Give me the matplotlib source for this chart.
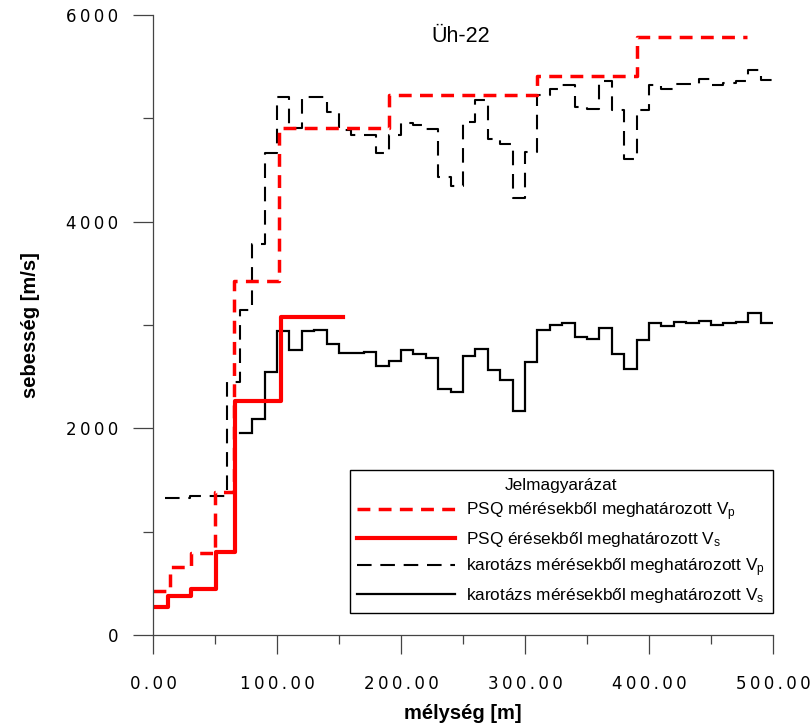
import matplotlib
matplotlib.use("Agg")
import matplotlib.pyplot as plt
from matplotlib.ticker import FixedLocator

plt.rcParams["font.family"] = ["Liberation Sans", "DejaVu Sans"]
plt.rcParams["mathtext.fontset"] = "custom"
plt.rcParams["mathtext.rm"] = "Liberation Sans"
plt.rcParams["mathtext.it"] = "Liberation Sans:italic"

# ---------------- data ----------------
# PSQ Vp (step edges in m, velocities in m/s)
psq_vp_depth = [0, 14, 31, 50, 65, 102, 190, 310, 390, 479]
psq_vp_vel = [426, 661, 793, 1387, 3426, 4910, 5226, 5409, 5784]

# PSQ Vs
psq_vs_depth = [0, 12, 31, 51, 66, 103, 153]
psq_vs_vel = [271, 377, 445, 803, 2264, 3080]

# karotázs Vp (10 m intervals)
kar_vp_depth = [10, 20, 30, 40, 50, 60, 70, 80, 90, 100, 110, 120, 130, 140, 150,
                160, 170, 180, 190, 200, 210, 220, 230, 240, 250, 260, 270, 280,
                290, 300, 310, 320, 330, 340, 350, 360, 370, 380, 390, 400, 410,
                420, 430, 440, 450, 460, 470, 480, 490, 500]
kar_vp_vel = [1323, 1323, 1345, 1345, 1345, 2451, 3145, 3781, 4667, 5210,
              4909, 5210, 5210, 5064, 4887, 4838, 4838, 4664, 4838, 4952,
              4935, 4900, 4435, 4345, 4960, 5177, 4800, 4750, 4226, 4677,
              5226, 5280, 5322, 5112, 5090, 5364, 5080, 4603, 5083, 5320,
              5280, 5330, 5330, 5380, 5320, 5340, 5360, 5470, 5370]

# karotázs Vs (10 m intervals)
kar_vs_depth = [70, 80, 90, 100, 110, 120, 130, 140, 150, 160, 170, 180, 190,
                200, 210, 220, 230, 240, 250, 260, 270, 280, 290, 300, 310, 320,
                330, 340, 350, 360, 370, 380, 390, 400, 410, 420, 430, 440, 450,
                460, 470, 480, 490, 500]
kar_vs_vel = [1955, 2090, 2545, 2942, 2758, 2942, 2952, 2816, 2729, 2729,
              2739, 2603, 2652, 2758, 2716, 2684, 2381, 2355, 2700, 2765,
              2564, 2468, 2165, 2639, 2952, 3003, 3022, 2887, 2861, 2974,
              2716, 2571, 2855, 3022, 2990, 3032, 3019, 3042, 3003, 3019,
              3032, 3119, 3016]

x_major = [0, 100, 200, 300, 400, 500]
x_minor = [50, 150, 250, 350, 450]
x_labels = ["0.00", "100.00", "200.00", "300.00", "400.00", "500.00"]
y_major = [0, 2000, 4000, 6000]
y_minor = [1000, 3000, 5000]
y_labels = ["0", "2000", "4000", "6000"]

legend_title = "Jelmagyarázat"
labels = [
    "PSQ mérésekből meghatározott V$_\\mathrm{p}$",
    "PSQ érésekből meghatározott V$_\\mathrm{s}$",
    "karotázs mérésekből meghatározott V$_\\mathrm{p}$",
    "karotázs mérésekből meghatározott V$_\\mathrm{s}$",
]
chart_title = "Üh-22"


def spaced(s):
    return "\u2009".join(s)


# ---------------- figure ----------------
fig = plt.figure(figsize=(8.12, 7.24), dpi=100)
ax = fig.add_axes([153 / 812, 1 - 635 / 724, 620 / 812, 620 / 724])

l_kvs, = ax.plot(kar_vs_depth, kar_vs_vel + [kar_vs_vel[-1]], drawstyle="steps-post",
                 color="black", lw=1.6, solid_joinstyle="miter")
l_kvp, = ax.plot(kar_vp_depth, kar_vp_vel + [kar_vp_vel[-1]], drawstyle="steps-post",
                 color="black", lw=1.5, linestyle=(0, (7.0, 4.2)))
l_svs, = ax.plot(psq_vs_depth, psq_vs_vel + [psq_vs_vel[-1]], drawstyle="steps-post",
                 color="#ff0000", lw=3.0)
l_svp, = ax.plot(psq_vp_depth, psq_vp_vel + [psq_vp_vel[-1]], drawstyle="steps-post",
                 color="#ff0000", lw=2.5, linestyle=(0, (3.7, 2.4)))

ax.set_xlim(0, 500)
ax.set_ylim(0, 6000)
for s in ("top", "right"):
    ax.spines[s].set_visible(False)
for s in ("left", "bottom"):
    ax.spines[s].set_color("#444444")
    ax.spines[s].set_linewidth(0.9)

ax.xaxis.set_major_locator(FixedLocator(x_major))
ax.xaxis.set_minor_locator(FixedLocator(x_minor))
ax.yaxis.set_major_locator(FixedLocator(y_major))
ax.yaxis.set_minor_locator(FixedLocator(y_minor))
ax.set_xticklabels([spaced(t) for t in x_labels], family="DejaVu Sans", fontsize=12)
ax.set_yticklabels([spaced(t) for t in y_labels], family="DejaVu Sans", fontsize=12)

ax.tick_params(which="both", direction="out", color="#444444", width=0.9)
ax.tick_params(axis="x", which="major", length=14, pad=15)
ax.tick_params(axis="x", which="minor", length=6.5)
ax.tick_params(axis="y", which="major", length=14.4, pad=10.5)
ax.tick_params(axis="y", which="minor", length=7)

ax.set_xlabel("mélység [m]", family=["Liberation Sans Narrow", "Liberation Sans"],
              fontweight="bold", fontsize=14.5, labelpad=8)
ax.set_ylabel("sebesség [m/s]", family=["Liberation Sans Narrow", "Liberation Sans"],
              fontweight="bold", fontsize=14.5, labelpad=19)

ax.text(0.497, 0.9565, chart_title, transform=ax.transAxes, ha="center",
        va="baseline", fontsize=15.5)

leg = ax.legend([l_svp, l_svs, l_kvp, l_kvs], labels, title=legend_title,
                loc="lower right", bbox_to_anchor=(1.0, 0.0355), borderaxespad=0,
                frameon=True, fancybox=False, edgecolor="black", framealpha=1,
                fontsize=12.4, title_fontsize=12.4, handlelength=5.7,
                handletextpad=0.64, borderpad=0.45, labelspacing=0.42)
leg.get_frame().set_linewidth(1.0)

fig.savefig("out.png", dpi=100)
